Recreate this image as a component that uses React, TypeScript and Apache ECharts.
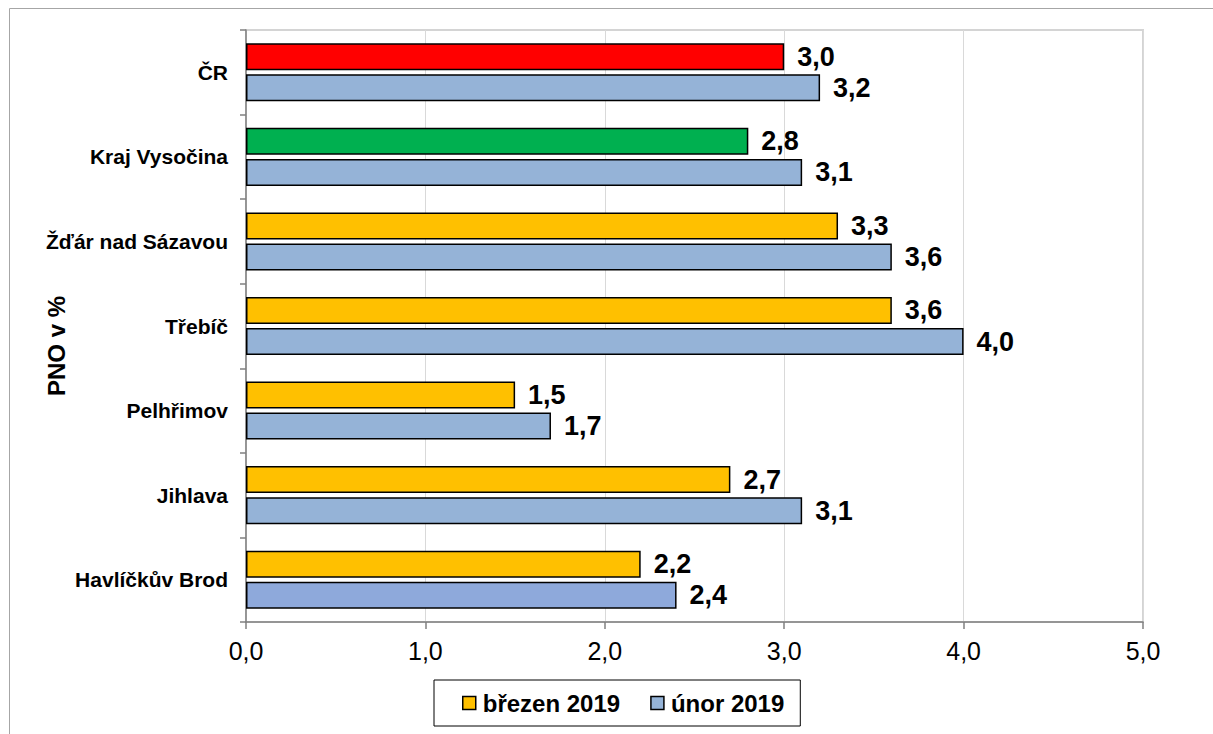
import React, { useEffect, useRef } from "react";
import * as echarts from "echarts";

const categories = [
  "ČR",
  "Kraj Vysočina",
  "Žďár nad Sázavou",
  "Třebíč",
  "Pelhřimov",
  "Jihlava",
  "Havlíčkův Brod",
];
const brezen2019 = [3.0, 2.8, 3.3, 3.6, 1.5, 2.7, 2.2];
const unor2019 = [3.2, 3.1, 3.6, 4.0, 1.7, 3.1, 2.4];
const brezenColors = ["#FF0000", "#00B050", "#FFC000", "#FFC000", "#FFC000", "#FFC000", "#FFC000"];
const unorColors = ["#95B3D7", "#95B3D7", "#95B3D7", "#95B3D7", "#95B3D7", "#95B3D7", "#8EA9DB"];
const seriesNames = ["březen 2019", "únor 2019"];
const xTicks = [0, 1, 2, 3, 4, 5];
const yAxisTitle = "PNO v %";

const FONT = "Liberation Sans, Arial, sans-serif";
const fmt = (v: number) => v.toFixed(1).replace(".", ",");

export default function App() {
  const ref = useRef<HTMLDivElement>(null);
  useEffect(() => {
    document.body.style.margin = "0";
    const chart = echarts.init(ref.current!, undefined, { renderer: "svg" });
    const label = {
      show: true,
      position: "right" as const,
      distance: 13,
      color: "#000",
      fontFamily: FONT,
      fontWeight: "bold" as const,
      fontSize: 27,
      formatter: (p: any) => fmt(p.value),
    };
    chart.setOption({
      animation: false,
      backgroundColor: "#fff",
      textStyle: { fontFamily: FONT },
      graphic: [
        {
          type: "rect",
          shape: { x: 9.5, y: 8.5, width: 1300, height: 800 },
          style: { fill: "none", stroke: "#a6a6a6", lineWidth: 1 },
          silent: true,
          z: -1,
        },
        {
          type: "text",
          x: 56,
          y: 346,
          rotation: Math.PI / 2,
          style: {
            text: yAxisTitle,
            fontFamily: FONT,
            fontWeight: "bold",
            fontSize: 24,
            fill: "#000",
            align: "center",
            verticalAlign: "middle",
          },
        },
      ],
      grid: {
        left: 246,
        right: 70,
        top: 30,
        bottom: 112,
        show: true,
        borderColor: "#d4d4d4",
        borderWidth: 2,
        containLabel: false,
      },
      legend: {
        left: 434,
        top: 680,
        data: seriesNames,
        orient: "horizontal",
        borderColor: "#000",
        borderWidth: 1,
        padding: [11, 16, 11, 28],
        itemGap: 30,
        itemWidth: 13,
        itemHeight: 13,
        icon: "rect",
        itemStyle: { borderColor: "#000", borderWidth: 1.5 },
        textStyle: { fontFamily: FONT, fontWeight: "bold", fontSize: 24, color: "#000", padding: [0, 0, 0, 2] },
      },
      xAxis: {
        type: "value",
        min: xTicks[0],
        max: xTicks[xTicks.length - 1],
        interval: 1,
        axisLine: { show: true, lineStyle: { color: "#808080", width: 1.5 } },
        axisTick: { show: true, length: 7, lineStyle: { color: "#808080", width: 1.5 } },
        axisLabel: {
          color: "#000",
          fontFamily: FONT,
          fontSize: 25,
          margin: 16,
          formatter: (v: number) => fmt(v),
        },
        splitLine: { show: true, lineStyle: { color: "#d9d9d9", width: 1 } },
      },
      yAxis: {
        type: "category",
        data: categories,
        inverse: true,
        axisLine: { show: true, lineStyle: { color: "#808080", width: 1.5 } },
        axisTick: { show: true, length: 6, lineStyle: { color: "#808080", width: 1.5 } },
        axisLabel: {
          color: "#000",
          fontFamily: FONT,
          fontWeight: "bold",
          fontSize: 21,
          margin: 18,
        },
        splitLine: { show: false },
      },
      series: [
        {
          name: seriesNames[0],
          type: "bar",
          barWidth: 27,
          barGap: "15%",
          itemStyle: { color: "#FFC000", borderColor: "#000", borderWidth: 1.5 },
          data: brezen2019.map((v, i) => ({ value: v, itemStyle: { color: brezenColors[i] } })),
          label,
        },
        {
          name: seriesNames[1],
          type: "bar",
          barWidth: 27,
          barGap: "15%",
          itemStyle: { color: "#95B3D7", borderColor: "#000", borderWidth: 1.5 },
          data: unor2019.map((v, i) => ({ value: v, itemStyle: { color: unorColors[i] } })),
          label,
        },
      ],
    });
    return () => chart.dispose();
  }, []);
  return <div ref={ref} style={{ width: 1213, height: 734 }} />;
}
